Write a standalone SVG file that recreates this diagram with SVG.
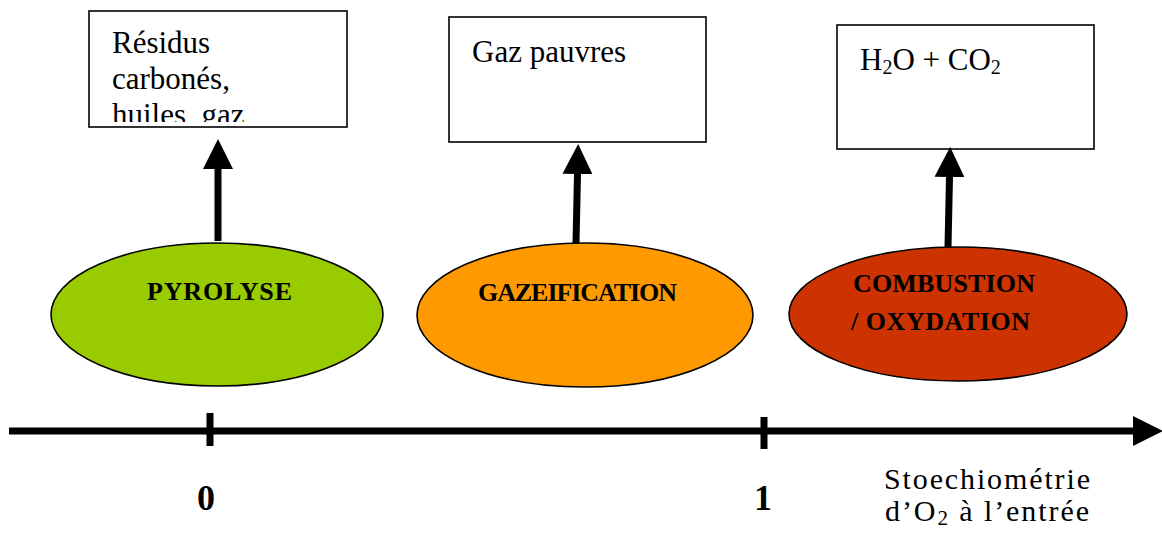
<svg xmlns="http://www.w3.org/2000/svg" width="1162" height="537" viewBox="0 0 1162 537">
  <style>
    .box { fill: #ffffff; stroke: #000000; stroke-width: 1.6; }
    .proc { stroke: #000000; stroke-width: 1.6; }
    .boxtxt { font-family: "Liberation Serif", "DejaVu Serif", serif; font-size: 31px; fill: #000000; }
    .proctxt { font-family: "Liberation Serif", "DejaVu Serif", serif; font-size: 26px; font-weight: bold; fill: #000000; }
    .axistxt { font-family: "Liberation Serif", "DejaVu Serif", serif; font-size: 30px; fill: #000000; }
    .num { font-family: "Liberation Serif", "DejaVu Serif", serif; font-size: 36px; font-weight: bold; fill: #000000; text-anchor: middle; }
    .conn { stroke: #000000; stroke-width: 7; fill: none; }
  </style>
  <defs>
    <marker id="head" viewBox="0 0 30 30" markerUnits="userSpaceOnUse" markerWidth="30" markerHeight="30" refX="0" refY="15" orient="auto">
      <path d="M0,0 L30,15 L0,30 Z" fill="#000000"/>
    </marker>
    <clipPath id="clip-residus">
      <rect x="90" y="12" width="256" height="110"/>
    </clipPath>
  </defs>
  <rect width="1162" height="537" fill="#ffffff"/>

  <!-- product boxes -->
  <g id="box-residus">
    <rect class="box" x="89" y="11" width="258" height="116"/>
    <g clip-path="url(#clip-residus)">
      <text class="boxtxt" x="112" y="53">Résidus</text>
      <text class="boxtxt" x="112" y="89">carbonés,</text>
      <text class="boxtxt" x="112" y="125">huiles, gaz</text>
    </g>
  </g>
  <g id="box-gaz">
    <rect class="box" x="449" y="17" width="257" height="125"/>
    <text class="boxtxt" x="472" y="62">Gaz pauvres</text>
  </g>
  <g id="box-h2o-co2">
    <rect class="box" x="837" y="25" width="257" height="124"/>
    <text class="boxtxt" x="860" y="70">H<tspan font-size="20" dy="4">2</tspan><tspan dy="-4">O + CO</tspan><tspan font-size="20" dy="4">2</tspan></text>
  </g>

  <!-- process ellipses -->
  <g id="pyrolyse">
    <ellipse class="proc" cx="217" cy="314.5" rx="166" ry="71.5" fill="#99CC00"/>
    <text class="proctxt" x="147" y="300" textLength="145">PYROLYSE</text>
  </g>
  <g id="gazeification">
    <ellipse class="proc" cx="585" cy="315" rx="168" ry="72" fill="#FF9900"/>
    <text class="proctxt" x="478" y="301" textLength="199">GAZEIFICATION</text>
  </g>
  <g id="combustion">
    <ellipse class="proc" cx="958" cy="314" rx="169" ry="67" fill="#CC3300"/>
    <text class="proctxt" x="853" y="292" textLength="182">COMBUSTION</text>
    <text class="proctxt" x="851" y="330" textLength="179">/ OXYDATION</text>
  </g>

  <!-- connectors -->
  <g id="connectors">
    <line class="conn" x1="218" y1="241" x2="218" y2="169" marker-end="url(#head)"/>
    <line class="conn" x1="576" y1="243" x2="577.5" y2="174" marker-end="url(#head)"/>
    <line class="conn" x1="948" y1="247" x2="949.5" y2="177" marker-end="url(#head)"/>
  </g>

  <!-- stoichiometry axis -->
  <g id="axis">
    <line class="conn" x1="9" y1="431" x2="1133" y2="431" marker-end="url(#head)"/>
    <line class="conn" x1="210" y1="413" x2="210" y2="446"/>
    <line class="conn" x1="764" y1="417" x2="764" y2="449"/>
    <text class="num" x="206" y="510">0</text>
    <text class="num" x="763" y="510">1</text>
    <text class="axistxt" x="884" y="489" textLength="206">Stoechiométrie</text>
    <text class="axistxt" x="885" y="521" textLength="204">d’O<tspan font-size="21" dy="4">2</tspan><tspan dy="-4"> à l’entrée</tspan></text>
  </g>
</svg>
